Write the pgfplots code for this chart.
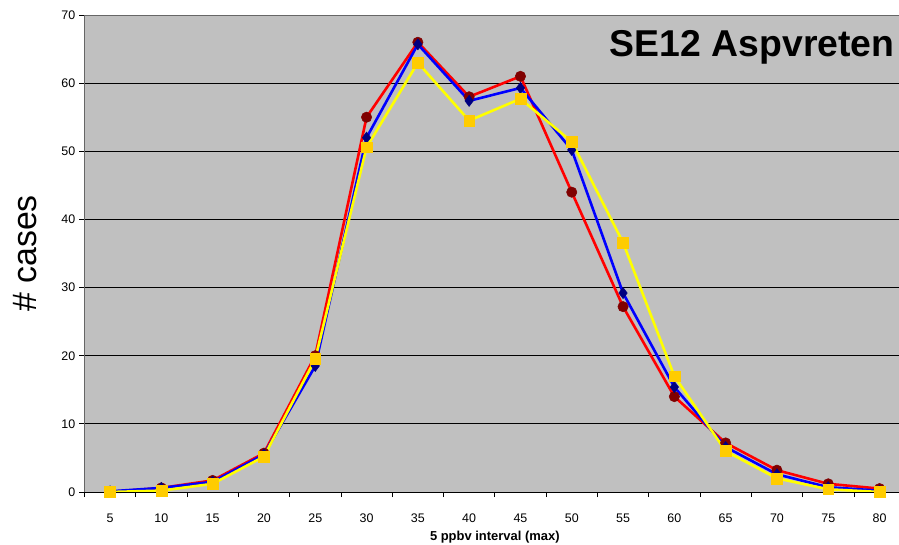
\documentclass[border=0pt]{standalone}
\usepackage{pgfplots}
\pgfplotsset{compat=1.18}
\usepackage{fontspec}
\setmainfont{Liberation Sans}
\definecolor{bg}{HTML}{C0C0C0}
\definecolor{rline}{HTML}{FF0000}
\definecolor{rmark}{HTML}{800000}
\definecolor{bline}{HTML}{0000FF}
\definecolor{bmark}{HTML}{000080}
\definecolor{yline}{HTML}{FFFF00}
\definecolor{ymark}{HTML}{FFCC00}
\begin{document}
\begin{tikzpicture}
\path[use as bounding box, clip] (0,0) rectangle (899bp,545bp);
\begin{axis}[
  at={(84.4bp,53bp)}, anchor=south west,
  scale only axis, width=820.8bp, height=477bp,
  xmin=-0.5, xmax=15.5, ymin=0, ymax=70,
  xtick={0,...,15},
  xticklabels={5,10,15,20,25,30,35,40,45,50,55,60,65,70,75,80},
  minor xtick={-0.5,0.5,...,15.5},
  ytick={0,10,...,70},
  major x tick style={draw=none},
  tick align=outside, tick pos=left,
  major tick length=5bp, minor tick length=5bp,
  tick style={black, line width=0.8bp},
  ymajorgrids, major grid style={black, line width=0.8bp},
  axis line style={draw=gray!80!black, line width=0.8bp},
  axis background/.style={fill=bg},
  /pgf/number format/assume math mode=true,
  ticklabel style={font=\fontsize{12.5}{14}\selectfont, inner sep=0pt},
  xticklabel style={anchor=base, yshift=-25bp},
  yticklabel style={anchor=east, xshift=-4bp},
  xlabel={\bfseries 5 ppbv interval (max)},
  xlabel style={at={(axis description cs:0.5,-0.1027)}, anchor=base, font=\fontsize{13}{15}\selectfont},
  ylabel={\# cases},
  ylabel style={at={(axis description cs:-0.0724,0.5)}, anchor=center, font=\fontsize{34}{40}\selectfont},
  clip=false,
]
\addplot[rline, line width=2.6bp, mark=*, mark size=5.2bp, mark options={fill=rmark, draw=rmark, line width=0.5bp}]
  coordinates {(0,0) (1,0.6) (2,1.7) (3,5.7) (4,20) (5,55) (6,66) (7,58) (8,61) (9,44) (10,27.2) (11,14) (12,7.2) (13,3.2) (14,1.2) (15,0.5)};
\addplot[bline, line width=2.6bp, mark=diamond*, mark size=5.6bp, mark options={fill=bmark, draw=bmark, line width=0.5bp}]
  coordinates {(0,0.1) (1,0.6) (2,1.5) (3,5.5) (4,18.5) (5,52) (6,65.7) (7,57.4) (8,59.3) (9,50.2) (10,29.2) (11,15.4) (12,6.6) (13,2.6) (14,0.7) (15,0.2)};
\addplot[yline, line width=2.6bp, mark=square*, mark size=5.4bp, mark options={fill=ymark, draw=ymark, line width=0.5bp}]
  coordinates {(0,0) (1,0.2) (2,1.2) (3,5.2) (4,19.5) (5,50.6) (6,63) (7,54.5) (8,57.7) (9,51.4) (10,36.6) (11,17) (12,6.0) (13,2.0) (14,0.4) (15,0)};
\draw[black, line width=0.8bp] (rel axis cs:0,0) -- (rel axis cs:1,0);
\node[anchor=base east, font=\fontsize{37.5}{42}\selectfont\bfseries] at (rel axis cs:0.9912,0.912) {SE12 Aspvreten};
\end{axis}
\end{tikzpicture}
\end{document}
